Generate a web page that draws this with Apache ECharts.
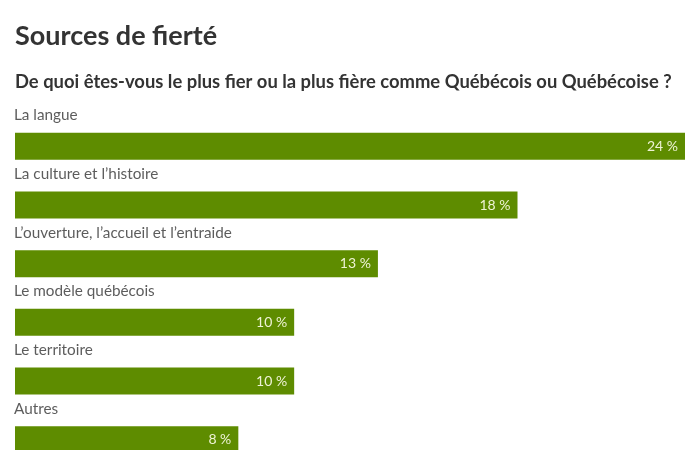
<!DOCTYPE html>
<html><head><meta charset="utf-8">
<script src="https://cdn.jsdelivr.net/npm/echarts@6/dist/echarts.min.js"></script>
<style>html,body{margin:0;padding:0;background:#fff}#c{width:700px;height:450px}</style>
</head><body><div id="c"></div>
<script>
const title = 'Sources de fierté';
const subtitle = 'De quoi êtes-vous le plus fier ou la plus fière comme Québécois ou Québécoise ?';
const categories = ['La langue', 'La culture et l\u2019histoire', 'L\u2019ouverture, l\u2019accueil et l\u2019entraide', 'Le modèle québécois', 'Le territoire', 'Autres'];
const values = [24, 18, 13, 10, 10, 8];

const chart = echarts.init(document.getElementById('c'));
chart.setOption({
  animation: false,
  backgroundColor: '#fff',
  title: [
    {text: title, left: 10, top: 18, textStyle: {fontFamily: 'Lato', fontWeight: 'bold', fontSize: 27, color: '#333'}},
    {text: subtitle, left: 10, top: 68, textStyle: {fontFamily: 'Lato', fontWeight: 'bold', fontSize: 18.4, color: '#333'}}
  ],
  grid: {left: 15, top: 117, width: 670, height: 352, outerBoundsMode: 'none', containLabel: false},
  xAxis: {type: 'value', min: 0, max: 24, show: false},
  yAxis: {
    type: 'category', data: categories, inverse: true,
    axisLine: {show: false}, axisTick: {show: false}, splitLine: {show: false},
    axisLabel: {show: false}
  },
  series: [{
    type: 'bar', data: values, barWidth: 27,
    itemStyle: {color: '#5e8c00'},
    label: {show: true, position: 'insideRight', distance: 7, formatter: '{c} %',
      fontFamily: 'Lato', fontSize: 14, color: '#eef3d4'}
  }, {
    type: 'scatter', silent: true, symbolSize: 0,
    data: categories.map(c => [0, c]),
    label: {show: true, position: 'right', distance: 0, offset: [-1, -31],
      formatter: p => p.value[1], fontFamily: 'Lato', fontSize: 15.3, color: '#333'}
  }]
});
</script></body></html>
